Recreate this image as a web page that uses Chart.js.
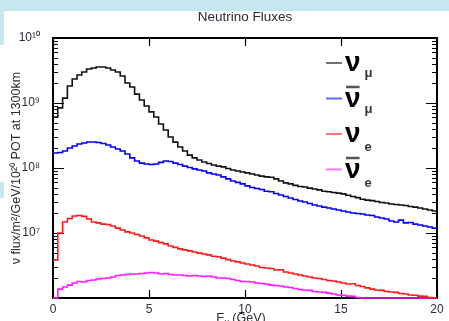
<!DOCTYPE html>
<html>
<head>
<meta charset="utf-8">
<script src="https://cdn.jsdelivr.net/npm/chart.js@4.4.1/dist/chart.umd.min.js"></script>
<style>
  html, body { margin: 0; padding: 0; background: #fff; }
  #marco { position: relative; width: 449px; height: 321px; overflow: hidden; }
  .franja { position: absolute; background: #c6e6f0; }
  canvas { position: absolute; left: 0; top: 0; }
</style>
</head>
<body>
<div id="marco">
  <div class="franja" style="left:0;top:0;width:449px;height:11px"></div>
  <div class="franja" style="left:0;top:0;width:4px;height:45px"></div>
  <div class="franja" style="left:0;top:182px;width:4px;height:16px"></div>
  <canvas id="grafico1" width="449" height="321"></canvas>
</div>
<script>
// bins de 0.25 GeV entre 0 y 20 GeV
var anchoBin = 0.25;
var eMax = 20;
var xTicks = [0, 5, 10, 15, 20];

// flujo por bin (nu/m2/GeV/1e20 POT a 1300 km)
var numu = [
  6.1e8, 8.4e8, 1.19e9, 1.83e9, 2.34e9, 2.7e9, 3.0e9, 3.33e9, 3.45e9, 3.58e9,
  3.58e9, 3.45e9, 3.22e9, 3.0e9, 2.6e9, 2.03e9, 1.76e9, 1.37e9, 1.11e9, 9.0e8,
  7.3e8, 6.1e8, 4.75e8, 3.85e8, 3.0e8, 2.5e8, 2.1e8, 1.83e8, 1.58e8, 1.43e8,
  1.33e8, 1.24e8, 1.17e8, 1.11e8, 1.07e8, 1.04e8, 9.8e7, 9.3e7, 9.0e7, 8.7e7,
  8.4e7, 8.1e7, 7.8e7, 7.5e7, 7.3e7, 7.2e7, 6.8e7, 6.3e7, 5.9e7, 5.7e7,
  5.4e7, 5.2e7, 5.1e7, 4.9e7, 4.75e7, 4.6e7, 4.4e7, 4.3e7, 4.2e7, 4.1e7,
  4.0e7, 3.8e7, 3.65e7, 3.5e7, 3.3e7, 3.2e7, 3.15e7, 3.05e7, 2.95e7, 2.9e7,
  2.8e7, 2.75e7, 2.7e7, 2.65e7, 2.55e7, 2.5e7, 2.43e7, 2.34e7, 2.26e7, 2.18e7
];
var numubar = [
  1.70e8, 1.73e8, 1.83e8, 2.03e8, 2.18e8, 2.34e8, 2.43e8, 2.51e8, 2.51e8, 2.47e8,
  2.38e8, 2.26e8, 2.10e8, 1.96e8, 1.83e8, 1.64e8, 1.43e8, 1.28e8, 1.19e8, 1.15e8,
  1.13e8, 1.15e8, 1.22e8, 1.28e8, 1.26e8, 1.19e8, 1.13e8, 1.07e8, 1.02e8, 9.7e7,
  9.3e7, 9.0e7, 8.4e7, 8.1e7, 7.8e7, 7.3e7, 6.8e7, 6.3e7, 6.0e7, 5.7e7,
  5.3e7, 5.0e7, 4.84e7, 4.67e7, 4.4e7, 4.3e7, 4.05e7, 3.85e7, 3.65e7, 3.45e7,
  3.27e7, 3.1e7, 3.0e7, 2.84e7, 2.7e7, 2.6e7, 2.5e7, 2.43e7, 2.34e7, 2.26e7,
  2.18e7, 2.1e7, 2.03e7, 2.0e7, 1.96e7, 1.89e7, 1.86e7, 1.76e7, 1.70e7, 1.64e7,
  1.53e7, 1.48e7, 1.58e7, 1.43e7, 1.45e7, 1.37e7, 1.33e7, 1.28e7, 1.24e7, 1.19e7
];
var nue = [
  3.85e6, 1.0e7, 1.48e7, 1.67e7, 1.83e7, 1.86e7, 1.80e7, 1.64e7, 1.48e7, 1.43e7,
  1.37e7, 1.35e7, 1.28e7, 1.19e7, 1.11e7, 1.04e7, 1.0e7, 9.5e6, 9.0e6, 8.4e6,
  7.8e6, 7.5e6, 7.1e6, 6.8e6, 6.3e6, 6.0e6, 5.7e6, 5.5e6, 5.3e6, 5.1e6,
  4.9e6, 4.75e6, 4.6e6, 4.4e6, 4.3e6, 4.1e6, 3.9e6, 3.7e6, 3.6e6, 3.45e6,
  3.33e6, 3.22e6, 3.1e6, 2.94e6, 2.9e6, 2.84e6, 2.7e6, 2.72e6, 2.51e6, 2.43e6,
  2.34e6, 2.26e6, 2.18e6, 2.1e6, 2.03e6, 2.0e6, 1.93e6, 1.86e6, 1.83e6, 1.76e6,
  1.70e6, 1.64e6, 1.66e6, 1.56e6, 1.50e6, 1.43e6, 1.37e6, 1.33e6, 1.31e6, 1.26e6,
  1.24e6, 1.22e6, 1.17e6, 1.15e6, 1.11e6, 1.10e6, 1.07e6, 1.06e6, 1.02e6, 1.0e6
];
var nuebar = [
  1.0e6, 1.37e6, 1.48e6, 1.58e6, 1.70e6, 1.79e6, 1.76e6, 1.86e6, 1.89e6, 1.96e6,
  2.0e6, 2.03e6, 2.1e6, 2.22e6, 2.26e6, 2.30e6, 2.34e6, 2.34e6, 2.38e6, 2.43e6,
  2.47e6, 2.43e6, 2.34e6, 2.38e6, 2.30e6, 2.26e6, 2.26e6, 2.22e6, 2.18e6, 2.22e6,
  2.18e6, 2.14e6, 2.18e6, 2.1e6, 2.03e6, 2.03e6, 2.0e6, 1.93e6, 1.86e6, 1.79e6,
  1.79e6, 1.76e6, 1.70e6, 1.67e6, 1.64e6, 1.58e6, 1.56e6, 1.53e6, 1.48e6, 1.45e6,
  1.40e6, 1.35e6, 1.33e6, 1.31e6, 1.26e6, 1.24e6, 1.22e6, 1.19e6, 1.15e6, 1.11e6,
  1.10e6, 1.07e6, 1.06e6, 1.02e6, 1.0e6, 1.0e6, 1.0e6, 1.0e6, 1.0e6, 1.0e6,
  1.0e6, 1.0e6, 1.0e6, 1.0e6, 1.0e6, 1.0e6, 1.0e6, 1.0e6, 1.0e6, 1.0e6
];

var sabores = ['μ', 'μ', 'e', 'e'];
var anti = [false, true, false, true];
var colores = ['#111111', '#0000ff', '#ff1a1a', '#ff1aff'];
var series = [numu, numubar, nue, nuebar];

var SUP = { '0': '⁰', '1': '¹', '2': '²', '3': '³', '4': '⁴', '5': '⁵', '6': '⁶', '7': '⁷', '8': '⁸', '9': '⁹' };
function potencia(n) {
  return '10' + String(n).split('').map(function (c) { return SUP[c]; }).join('');
}

// histograma: un punto por borde inferior de bin + el borde final
function histo(valores) {
  var pts = valores.map(function (v, i) { return { x: i * anchoBin, y: v }; });
  pts.push({ x: eMax, y: valores[valores.length - 1] });
  return pts;
}

var fuente = '"Liberation Sans", Arial, sans-serif';

var ejes = {
  id: 'ejes',
  beforeDatasetsDraw: function (chart) {
    var ctx = chart.ctx, a = chart.chartArea;
    var xs = chart.scales.x, ys = chart.scales.y;
    ctx.save();
    ctx.strokeStyle = '#000';
    ctx.lineWidth = 2;
    ctx.strokeRect(a.left, a.top, a.right - a.left, a.bottom - a.top);
    ctx.lineWidth = 1.2;
    ctx.beginPath();
    for (var d = 6; d < 10; d++) {
      for (var m = 1; m < 10; m++) {
        var py = Math.round(ys.getPixelForValue(m * Math.pow(10, d))) + 0.5;
        var largo = m === 1 ? 11 : 5;
        ctx.moveTo(a.left, py); ctx.lineTo(a.left + largo, py);
        ctx.moveTo(a.right, py); ctx.lineTo(a.right - largo, py);
      }
    }
    xs.ticks.forEach(function (t) {
      var px = Math.round(xs.getPixelForValue(t.value)) + 0.5;
      ctx.moveTo(px, a.bottom); ctx.lineTo(px, a.bottom - 8);
      ctx.moveTo(px, a.top); ctx.lineTo(px, a.top + 8);
    });
    ctx.stroke();
    ctx.restore();
  },
  afterDraw: function (chart) {
    var ctx = chart.ctx, a = chart.chartArea;
    var cx = (a.left + a.right) / 2;
    ctx.save();
    ctx.fillStyle = '#2a2a35';
    ctx.textBaseline = 'middle';
    ctx.textAlign = 'center';
    ctx.font = '13.5px ' + fuente;
    ctx.fillText('Neutrino Fluxes', cx, 17);

    // titulo del eje x: E con subindice nu
    ctx.textBaseline = 'alphabetic';
    ctx.textAlign = 'left';
    ctx.font = '12.5px ' + fuente;
    var wE = ctx.measureText('E').width;
    var wR = ctx.measureText(' (GeV)').width;
    ctx.font = '8.5px ' + fuente;
    var wN = ctx.measureText('ν').width;
    var x0 = cx - 4 - (wE + wN + wR) / 2;
    var base = 322;
    ctx.font = '12.5px ' + fuente;
    ctx.fillText('E', x0, base);
    ctx.font = '8.5px ' + fuente;
    ctx.fillText('ν', x0 + wE, base + 3);
    ctx.font = '12.5px ' + fuente;
    ctx.fillText(' (GeV)', x0 + wE + wN, base);

    // leyenda
    chart.data.datasets.forEach(function (ds, i) {
      var y = a.top + 25 + i * 35.5;
      var xl = a.right - 111;
      ctx.globalAlpha = 0.6;
      ctx.strokeStyle = ds.borderColor;
      ctx.lineWidth = 2;
      ctx.beginPath();
      ctx.moveTo(xl, y); ctx.lineTo(xl + 16, y);
      ctx.stroke();
      ctx.globalAlpha = 1;
      ctx.fillStyle = '#000';
      ctx.font = 'bold 28px ' + fuente;
      var xn = xl + 19;
      var wn = ctx.measureText('ν').width;
      ctx.fillText('ν', xn, y + 8);
      if (anti[i]) {
        ctx.strokeStyle = '#555';
        ctx.lineWidth = 2.5;
        ctx.beginPath();
        ctx.moveTo(xn + 1, y - 11.5); ctx.lineTo(xn + wn - 1, y - 11.5);
        ctx.stroke();
      }
      ctx.fillStyle = '#333';
      ctx.font = 'bold 13px ' + fuente;
      ctx.fillText(sabores[i], xn + wn + 4, y + (sabores[i] === 'e' ? 17 : 14));
    });
    ctx.restore();
  }
};

var ctx = document.getElementById('grafico1');
var myChart = new Chart(ctx, {
  type: 'line',
  data: {
    datasets: series.map(function (s, i) {
      return {
        label: (anti[i] ? 'anti-' : '') + 'ν' + sabores[i],
        data: histo(s),
        borderColor: colores[i],
        borderWidth: 1.6,
        pointRadius: 0,
        stepped: true,
        fill: false,
        clip: 3
      };
    })
  },
  plugins: [ejes],
  options: {
    responsive: false,
    animation: false,
    layout: { padding: { top: 38, right: 12, left: 0, bottom: 0 } },
    plugins: {
      legend: { display: false },
      title: { display: false },
      tooltip: { enabled: false }
    },
    scales: {
      x: {
        type: 'linear',
        min: 0,
        max: eMax,
        afterFit: function (s) { s.height = 23; },
        afterBuildTicks: function (s) { s.ticks = xTicks.map(function (v) { return { value: v }; }); },
        grid: { display: false },
        border: { display: false },
        ticks: { padding: -4, maxRotation: 0, color: '#2a2a35', font: { family: fuente, size: 12 } }
      },
      y: {
        type: 'logarithmic',
        min: 1e6,
        max: 1e10,
        afterFit: function (s) { s.width = 53; },
        grid: { display: false },
        border: { display: false },
        title: {
          display: true,
          text: 'ν flux/m²/GeV/10²⁰ POT at 1300km',
          color: '#2a2a35',
          font: { family: fuente, size: 12.5 },
          padding: { top: 9, bottom: 0 }
        },
        ticks: {
          autoSkip: false,
          padding: 5,
          color: '#2a2a35',
          font: { family: fuente, size: 12 },
          callback: function (v) {
            var e = Math.log10(v);
            if (Math.abs(e - Math.round(e)) < 1e-9 && Math.round(e) > 6) return potencia(Math.round(e));
            return '';
          }
        }
      }
    }
  }
});
</script>
</body>
</html>
